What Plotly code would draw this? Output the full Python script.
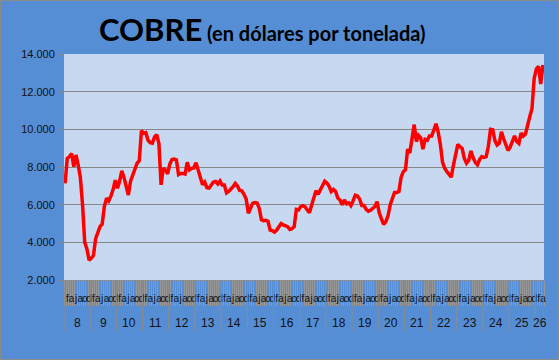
import plotly.graph_objects as go

# Monthly copper price (USD per tonne), Jan 2008 .. Apr 2026
years = ["8", "9", "10", "11", "12", "13", "14", "15", "16", "17", "18", "19",
         "20", "21", "22", "23", "24", "25", "26"]
month_letters = ["e", "f", "m", "a", "m", "j", "j", "a", "s", "o", "n", "d"]

p2008 = [7130, 8460, 8550, 8720, 8020, 8640, 8100, 7450, 6000, 4000, 3650, 3050]
p2009 = [3150, 3300, 4200, 4500, 4830, 4960, 5900, 6350, 6200, 6450, 6800, 7300]
p2010 = [6870, 7250, 7800, 7450, 7000, 6510, 7250, 7550, 7950, 8200, 8330, 9930]
p2011 = [9790, 9820, 9430, 9290, 9260, 9600, 9720, 9250, 7050, 7930, 7840, 7630]
p2012 = [8150, 8400, 8420, 8380, 7600, 7660, 7660, 7630, 8250, 7850, 7930, 7950]
p2013 = [8230, 7800, 7450, 7060, 7200, 6900, 6880, 7050, 7200, 7230, 7100, 7260]
p2014 = [7040, 7040, 6620, 6700, 6800, 6950, 7130, 6990, 6760, 6740, 6550, 6300]
p2015 = [5540, 5870, 6080, 6110, 6090, 5800, 5200, 5150, 5170, 5120, 4650, 4620]
p2016 = [4550, 4650, 4800, 5000, 4930, 4870, 4830, 4680, 4720, 4830, 5750, 5720]
p2017 = [5900, 5950, 5890, 5720, 5570, 5980, 6370, 6740, 6550, 6750, 6950, 7240]
p2018 = [7150, 6980, 6700, 6810, 6700, 6350, 6250, 6000, 6250, 6050, 6100, 5950]
p2019 = [6200, 6500, 6460, 6300, 5950, 5950, 5750, 5650, 5700, 5780, 5900, 6160]
p2020 = [5560, 5250, 4950, 5100, 5400, 5980, 6400, 6650, 6650, 6700, 7450, 7750]
p2021 = [7850, 8950, 8750, 9600, 10250, 9350, 9680, 9550, 8950, 9470, 9420, 9650]
p2022 = [9650, 9950, 10300, 9850, 9200, 8250, 7930, 7750, 7580, 7460, 8100, 8600]
p2023 = [9200, 9080, 8980, 8450, 8200, 8350, 8850, 8500, 8250, 8120, 8400, 8550]
p2024 = [8510, 8550, 9100, 10000, 9980, 9400, 9170, 9260, 9870, 9500, 9150, 8880]
p2025 = [9050, 9380, 9650, 9350, 9250, 9800, 9640, 9750, 10280, 10680, 11100, 12700]
p2026 = [13200, 13350, 12400, 13420]

series = [p2008, p2009, p2010, p2011, p2012, p2013, p2014, p2015, p2016, p2017,
          p2018, p2019, p2020, p2021, p2022, p2023, p2024, p2025, p2026]

prices = [v for yr in series for v in yr]
idx = list(range(len(prices)))
month_of = [i % 12 for i in idx]

# labelled months: every other month starting with February
tick_vals = [i for i in idx if month_of[i] % 2 == 1]
tick_text = [month_letters[month_of[i]] for i in tick_vals]
boundaries = [i - 0.5 for i in idx] + [len(prices) - 0.5]

fig = go.Figure()
fig.add_trace(go.Scatter(x=idx, y=prices, mode="lines",
                         line=dict(color="#FF0000", width=3.5),
                         hoverinfo="skip", showlegend=False))

gray = "#8C8C8C"
txt = "#111111"

# year separators and year labels
shapes = []
annotations = []
start = 0
for k, yr in enumerate(series):
    n = len(yr)
    shapes.append(dict(type="line", xref="x", yref="paper",
                       x0=start - 0.5, x1=start - 0.5, y0=0, y1=-0.226,
                       line=dict(color=gray, width=1)))
    annotations.append(dict(x=start + (n - 1) / 2, y=-0.19, xref="x", yref="paper",
                            text=years[k], showarrow=False, yanchor="middle",
                            font=dict(family="Liberation Sans", size=12, color=txt)))
    start += n
shapes.append(dict(type="line", xref="x", yref="paper",
                   x0=start - 0.5, x1=start - 0.5, y0=0, y1=-0.226,
                   line=dict(color=gray, width=1)))

# outer border
shapes.append(dict(type="rect", xref="paper", yref="paper",
                   x0=-64 / 480, x1=1 + 15 / 480, y0=-80 / 226, y1=1 + 54 / 226,
                   line=dict(color="#8A8A8A", width=2), fillcolor="rgba(0,0,0,0)"))

annotations.append(dict(
    x=0.4125, y=1.0, xref="paper", yref="paper", xanchor="center", yanchor="bottom",
    yshift=4, showarrow=False,
    text="<b>COBRE</b><b><span style='font-size:20px'> (en dólares por tonelada)</span></b>",
    font=dict(family="Lato", size=31, color="#000000")))

fig.update_layout(
    width=559, height=360,
    margin=dict(l=64, r=15, t=54, b=80),
    paper_bgcolor="#558ED5",
    plot_bgcolor="#C6D9F1",
    separators=",.",
    shapes=shapes,
    annotations=annotations,
    xaxis=dict(range=[-0.5, len(prices) - 0.5], tickmode="array",
               tickvals=tick_vals, ticktext=tick_text, tickangle=0,
               ticks="outside", ticklen=9, tickcolor="rgba(0,0,0,0)",
               showgrid=False, zeroline=False, showline=True,
               linecolor=gray, linewidth=1,
               tickfont=dict(family="Liberation Sans", size=10, color=txt),
               minor=dict(tickmode="array", tickvals=boundaries, ticks="outside",
                          ticklen=25, tickcolor="#979797", tickwidth=1, showgrid=False)),
    yaxis=dict(range=[2000, 14000], dtick=2000, tickformat=",d",
               showgrid=True, gridcolor="#868686", gridwidth=1.2,
               zeroline=False, showline=False,
               ticks="outside", ticklen=6, tickcolor="#868686",
               tickfont=dict(family="Liberation Sans", size=11, color=txt)),
)

fig.write_html("out.html", config={"displayModeBar": False},
               post_script="document.body.style.margin='0';document.body.style.overflow='hidden';")
